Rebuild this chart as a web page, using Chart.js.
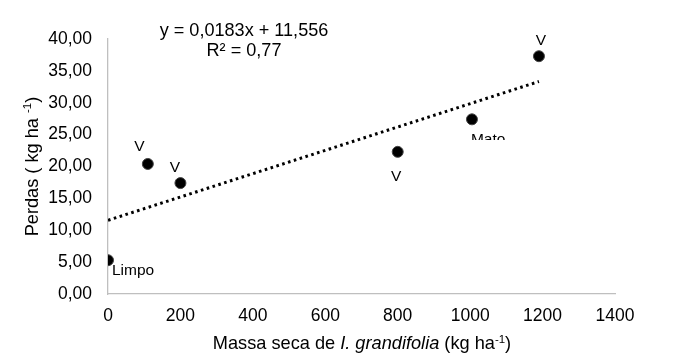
<!DOCTYPE html>
<html>
<head>
<meta charset="utf-8">
<script src="https://cdn.jsdelivr.net/npm/chart.js@4.4.1/dist/chart.umd.min.js"></script>
<style>
  html, body { margin: 0; padding: 0; background: #fff; }
  #wrap { width: 682px; height: 361px; }
</style>
</head>
<body>
<div id="wrap"><canvas id="c" width="682" height="361"></canvas></div>
<script>
const massaSeca = [0, 110, 200, 800, 1005, 1190];
const perdas = [5.3, 20.4, 17.4, 22.3, 27.4, 37.3];
const rotulos = ["Limpo", "V", "V", "V", "Mato", "V"];

// linha de tendência: extremos
const trendX = [0, 1190];
const trendY = [11.56, 33.33];

const xTicks = [0, 200, 400, 600, 800, 1000, 1200, 1400];
const yTicks = ["0,00", "5,00", "10,00", "15,00", "20,00", "25,00", "30,00", "35,00", "40,00"];

const equacao = "y = 0,0183x + 11,556";
const r2 = "R² = 0,77";

const FONT = "'Liberation Sans', Arial, sans-serif";
const fnt = (size, style) => (style ? style + " " : "") + size + "px " + FONT;

// deslocamento de cada rótulo em relação ao ponto (px)
const labelOffsets = [
  { dx: 4, dy: 15, align: "left", base: "alphabetic" },
  { dx: -8.5, dy: -17, align: "center", base: "middle" },
  { dx: -5.5, dy: -15, align: "center", base: "middle" },
  { dx: -1.5, dy: 25, align: "center", base: "middle" },
  { dx: -1, dy: 25, align: "left", base: "alphabetic", clip: 20.7 },
  { dx: 2, dy: -15, align: "center", base: "middle" },
];

// desenha texto composto (normal / itálico / sobrescrito) centrado em x
function drawParts(ctx, parts, x, y) {
  let total = 0;
  for (const p of parts) { ctx.font = p.font; total += ctx.measureText(p.t).width; }
  let cx = x - total / 2;
  for (const p of parts) {
    ctx.font = p.font;
    ctx.fillText(p.t, cx, y + (p.dy || 0));
    cx += ctx.measureText(p.t).width;
  }
}

const annotations = {
  id: "annotations",
  afterDatasetsDraw(chart) {
    const ctx = chart.ctx;
    const meta = chart.getDatasetMeta(1);
    ctx.save();
    ctx.fillStyle = "#000";

    // rótulos dos pontos
    meta.data.forEach((pt, i) => {
      const o = labelOffsets[i];
      ctx.save();
      if (o.clip) {
        ctx.beginPath();
        ctx.rect(pt.x - 50, pt.y - 50, 200, 50 + o.clip);
        ctx.clip();
      }
      ctx.font = fnt(15.5);
      ctx.textAlign = o.align;
      ctx.textBaseline = o.base;
      ctx.fillText(rotulos[i], pt.x + o.dx, pt.y + o.dy);
      ctx.restore();
    });

    // equação
    ctx.font = fnt(18.1);
    ctx.textAlign = "center";
    ctx.textBaseline = "middle";
    ctx.fillText(equacao, 244, 31);
    ctx.fillText(r2, 244, 51);

    // título eixo x
    ctx.textAlign = "left";
    ctx.textBaseline = "alphabetic";
    drawParts(ctx, [
      { t: "Massa seca de ", font: fnt(18.2) },
      { t: "I. grandifolia", font: fnt(18.2, "italic") },
      { t: " (kg ha", font: fnt(18.2) },
      { t: "-1", font: fnt(11.5), dy: -6.5 },
      { t: ")", font: fnt(18.2) },
    ], 362, 349);

    // título eixo y
    ctx.translate(37.5, 166.5);
    ctx.rotate(-Math.PI / 2);
    drawParts(ctx, [
      { t: "Perdas ( kg ha ", font: fnt(18.2) },
      { t: "-1", font: fnt(11.5), dy: -6.5 },
      { t: ")", font: fnt(18.2) },
    ], 0, 0);
    ctx.restore();
  },
};

new Chart(document.getElementById("c"), {
  type: "scatter",
  data: {
    datasets: [
      {
        type: "line",
        data: trendX.map((x, i) => ({ x, y: trendY[i] })),
        borderColor: "#000",
        borderWidth: 3,
        borderDash: [2.6, 3.5],
        pointRadius: 0,
        fill: false,
      },
      {
        data: massaSeca.map((x, i) => ({ x, y: perdas[i] })),
        backgroundColor: "#000",
        borderColor: "#444",
        borderWidth: 1,
        pointRadius: 5.5,
      },
    ],
  },
  options: {
    responsive: false,
    animation: false,
    layout: { padding: { top: 39, right: 67, left: 0, bottom: 0 } },
    plugins: { legend: { display: false }, tooltip: { enabled: false } },
    scales: {
      x: {
        type: "linear",
        min: 0, max: 1400,
        afterBuildTicks: s => { s.ticks = xTicks.map(v => ({ value: v })); },
        afterFit: s => { s.height = 67; },
        grid: { display: false, drawTicks: false },
        border: { color: "#bfbfbf", width: 1.3 },
        ticks: { color: "#000", padding: 12, font: { family: FONT, size: 17.5 }, callback: v => String(v) },
      },
      y: {
        min: 0, max: 40,
        afterBuildTicks: s => { s.ticks = yTicks.map((t, i) => ({ value: i * 5 })); },
        afterFit: s => { s.width = 108; },
        grid: { display: false, drawTicks: false },
        border: { color: "#bfbfbf", width: 1.3 },
        ticks: { color: "#000", padding: 16, font: { family: FONT, size: 17.5 }, callback: (v, i) => yTicks[i] },
      },
    },
  },
  plugins: [annotations],
});
</script>
</body>
</html>
